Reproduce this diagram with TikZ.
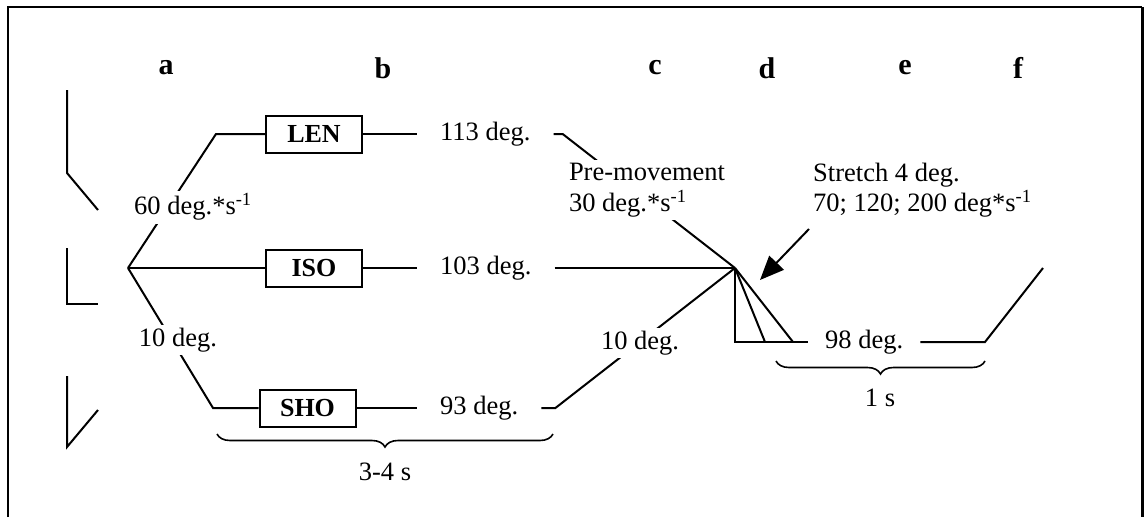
\documentclass[tikz,border=0pt]{standalone}
\usepackage{fontspec}
\setmainfont{Liberation Serif}
\usetikzlibrary{arrows.meta,decorations.pathreplacing}
\begin{document}
\begin{tikzpicture}[x=1pt,y=-1pt,
  every node/.style={font=\fontsize{26.5}{30.5}\selectfont},
  ln/.style={line width=2pt},
  lett/.style={font=\fontsize{30}{30}\selectfont\bfseries},
  cond/.style={draw,line width=2pt,minimum width=96pt,minimum height=37pt,inner sep=0pt,font=\fontsize{26}{30}\selectfont\bfseries},
  deg/.style={inner xsep=23pt,inner ysep=0pt,anchor=west},
  lab/.style={fill=white,inner sep=3pt},
  brc/.style={line width=1.6pt,decorate,decoration={brace,mirror,amplitude=13pt}},
]
\useasboundingbox (0,0) rectangle (1146,517);
\fill[white] (0,0) rectangle (1146,517);
% frame
\draw[line width=2pt] (8,517) -- (8,7) -- (1142,7);
\draw[line width=3pt] (1142,7) -- (1142,517);
% column letters
\node[lett] (la) at (166,68) {a};
\node[lett] (lb) at (383,68) {b};
\node[lett] (lc) at (655,68) {c};
\node[lett] (ld) at (767,68) {d};
\node[lett] (le) at (905,68) {e};
\node[lett] (lf) at (1018,68) {f};
% angle icons
\draw[ln] (67,90) -- (67,173) -- (98,210);
\draw[ln] (67,248) -- (67,304) -- (98,304);
\draw[ln] (67,376) -- (67,447) -- (98,410);
% branches
\coordinate (B) at (128,268);
\coordinate (Lc) at (216,134);
\coordinate (Sc) at (213,408);
\coordinate (A) at (735,268);
\node[cond] (len) at (314,134) {LEN};
\node[cond] (iso) at (314,268) {ISO};
\node[cond] (sho) at (307.5,408) {SHO};
\node[deg] (d113) at (417,134) {113 deg.};
\node[deg] (d103) at (417,268) {103 deg.};
\node[deg] (d93) at (417,408) {93 deg.};
\draw[ln] (B) -- (Lc) -- (len.west);
\draw[ln] (B) -- (iso.west);
\draw[ln] (B) -- (Sc) -- (sho.west);
\draw[ln] (len.east) -- (d113.west);
\draw[ln] (iso.east) -- (d103.west);
\draw[ln] (sho.east) -- (d93.west);
\draw[ln] (d113.east) -- ++(9,0) -- (A);
\draw[ln] (d103.east) -- (A);
\draw[ln] (d93.east) -- ++(14,0) -- (A);
% fan
\coordinate (F0) at (735,342);
\coordinate (F1) at (765,342);
\coordinate (F2) at (793,342);
\node[deg,inner xsep=17pt] (d98) at (808,342) {98 deg.};
\coordinate (E1) at (985,342);
\coordinate (E2) at (1043,268);
\draw[ln] (A) -- (F0) -- (d98.west);
\draw[ln] (A) -- (F1);
\draw[ln] (A) -- (F2);
\draw[ln] (d98.east) -- (E1) -- (E2);
% labels over lines
\node[lab] (v60) at (193,207) {60 deg.*s\textsuperscript{-1}};
\node[lab] (v10) at (178,340) {10 deg.};
\node[lab,align=left] (pre) at (647,190) {Pre-movement\\30 deg.*s\textsuperscript{-1}};
\node[lab] (v10b) at (640,343) {10 deg.};
\node[lab,align=left,anchor=west] (str) at (810,190) {Stretch 4 deg.\\70; 120; 200 deg*s\textsuperscript{-1}};
% arrow
\coordinate (arS) at (809,229);
\coordinate (arT) at (760,280);
\draw[ln,-{Triangle[length=24pt,width=20pt]}] (arS) -- (arT);
% braces
\coordinate (b1) at (217,434);
\coordinate (b2) at (553,434);
\draw[brc] (b1) -- (b2);
\node (t34) at (385,472) {3-4 s};
\coordinate (c1) at (776,361);
\coordinate (c2) at (985,361);
\draw[brc] (c1) -- (c2);
\node (t1s) at (880,398) {1 s};
\end{tikzpicture}
\end{document}
